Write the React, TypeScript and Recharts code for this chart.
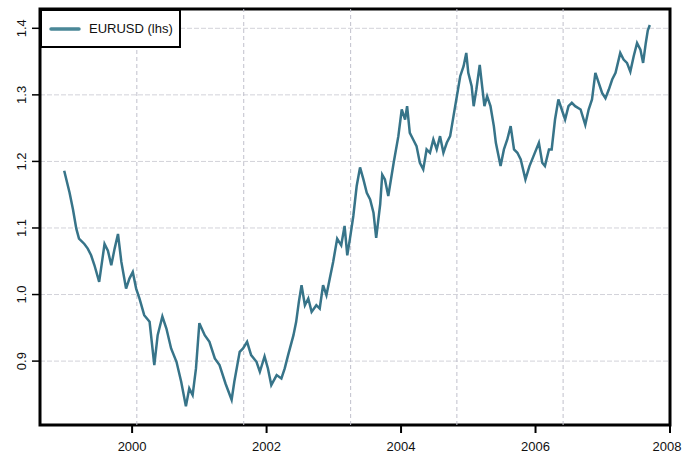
import React from "react";
import {
  LineChart,
  Line,
  XAxis,
  YAxis,
  CartesianGrid,
  ReferenceLine,
  ReferenceArea,
  Legend,
} from "recharts";

const obsTime = [
  1998.99, 1999.07, 1999.12, 1999.17, 1999.21, 1999.29, 1999.34, 1999.39, 1999.44, 1999.51,
  1999.59, 1999.64, 1999.69, 1999.74, 1999.79, 1999.84, 1999.91, 1999.96, 2000.01, 2000.06,
  2000.11, 2000.18, 2000.26, 2000.33, 2000.38, 2000.45, 2000.51, 2000.58, 2000.66, 2000.73,
  2000.8, 2000.85, 2000.9, 2000.95, 2001.0, 2001.08, 2001.15, 2001.23, 2001.3, 2001.39,
  2001.48, 2001.52, 2001.6, 2001.65, 2001.71, 2001.77, 2001.85, 2001.9, 2001.97, 2002.02,
  2002.07, 2002.15, 2002.22, 2002.27, 2002.32, 2002.4, 2002.44, 2002.48, 2002.52, 2002.57,
  2002.62, 2002.67, 2002.74, 2002.79, 2002.84, 2002.89, 2002.94, 2002.99, 2003.05, 2003.11,
  2003.16, 2003.2, 2003.24, 2003.29, 2003.34, 2003.39, 2003.44, 2003.49, 2003.54, 2003.59,
  2003.63, 2003.69, 2003.72, 2003.76, 2003.81, 2003.89, 2003.96, 2004.01, 2004.06, 2004.09,
  2004.13, 2004.18, 2004.23, 2004.28, 2004.33, 2004.38, 2004.43, 2004.48, 2004.53, 2004.58,
  2004.63, 2004.68, 2004.73, 2004.78, 2004.83, 2004.88, 2004.93, 2004.97, 2005.0, 2005.05,
  2005.08, 2005.12, 2005.17, 2005.2, 2005.24, 2005.28, 2005.33, 2005.38, 2005.41, 2005.45,
  2005.48, 2005.53, 2005.58, 2005.63, 2005.68, 2005.73, 2005.78, 2005.85, 2005.91, 2005.97,
  2006.05, 2006.1, 2006.14, 2006.2, 2006.24, 2006.29, 2006.34, 2006.39, 2006.44, 2006.49,
  2006.54, 2006.59, 2006.67, 2006.74, 2006.79, 2006.84, 2006.89, 2006.94, 2006.99, 2007.04,
  2007.09, 2007.14, 2007.19, 2007.26, 2007.31, 2007.36, 2007.41, 2007.46, 2007.51, 2007.56,
  2007.6, 2007.64, 2007.67, 2007.7,
];

const eurusd = [
  1.186, 1.153, 1.128, 1.099, 1.084, 1.076, 1.069, 1.059, 1.044, 1.019,
  1.076, 1.066, 1.044, 1.069, 1.091, 1.049, 1.009, 1.024, 1.034, 1.009,
  0.994, 0.969, 0.959, 0.894, 0.939, 0.967, 0.949, 0.919, 0.899, 0.869,
  0.832, 0.859, 0.849, 0.889, 0.957, 0.939, 0.929, 0.904, 0.894, 0.866,
  0.842, 0.869, 0.914, 0.919, 0.929, 0.909, 0.899, 0.884, 0.907, 0.889,
  0.864, 0.879, 0.874, 0.889, 0.909, 0.939, 0.959, 0.989, 1.014, 0.984,
  0.994, 0.974, 0.984, 0.979, 1.014, 0.999, 1.024, 1.049, 1.084, 1.074,
  1.103, 1.059, 1.084, 1.118, 1.163, 1.191, 1.173, 1.153, 1.143, 1.123,
  1.085, 1.136, 1.18, 1.173, 1.148, 1.198, 1.238, 1.278, 1.263, 1.283,
  1.243, 1.233, 1.223, 1.198, 1.188, 1.218, 1.213, 1.233, 1.218, 1.238,
  1.213, 1.228, 1.238, 1.268, 1.298, 1.328, 1.343, 1.363, 1.333, 1.313,
  1.283, 1.308, 1.345, 1.318, 1.283, 1.298, 1.283, 1.253, 1.228, 1.208,
  1.193, 1.218, 1.233, 1.253, 1.218, 1.213, 1.203, 1.173, 1.193, 1.208,
  1.228, 1.198, 1.193, 1.218, 1.218, 1.263, 1.293, 1.278, 1.263, 1.283,
  1.288, 1.283, 1.278, 1.255, 1.278, 1.293, 1.333, 1.318, 1.303, 1.295,
  1.308, 1.323, 1.333, 1.363, 1.353, 1.348, 1.335, 1.358, 1.378, 1.368,
  1.348, 1.378, 1.397, 1.405,
];

const xTicks = [2000, 2002, 2004, 2006, 2008];
const yTicks = [0.9, 1.0, 1.1, 1.2, 1.3, 1.4];
// vertical dashed grid lines do not sit on the year ticks
const gridYears = [2000.07, 2001.66, 2003.25, 2004.83, 2006.41];

const X_MIN = 1998.63;
const X_MAX = 2008;
const Y_MIN = 0.804;
const Y_MAX = 1.429;

const LINE_COLOR = "#377489";
const FONT = "'Liberation Sans', Arial, sans-serif";

const data = obsTime.map((t, i) => ({ t, eurusd: eurusd[i] }));

const YTick = ({ x, y, payload }: any) => {
  const bx = x - 4;
  return (
    <text
      x={bx}
      y={y}
      transform={`rotate(-90 ${bx} ${y})`}
      textAnchor="middle"
      fontSize={13}
      fontFamily={FONT}
      fill="#111"
    >
      {Number(payload.value).toFixed(1)}
    </text>
  );
};

const XTick = ({ x, y, payload }: any) => (
  <text x={x} y={y + 16} textAnchor="middle" fontSize={13} fontFamily={FONT} fill="#111">
    {payload.value}
  </text>
);

const LegendBox = () => (
  <div
    style={{
      boxSizing: "border-box",
      width: 141,
      height: 39,
      border: "2px solid #000",
      background: "#fff",
      display: "flex",
      alignItems: "center",
      fontFamily: FONT,
      fontSize: 13,
      color: "#111",
    }}
  >
    <svg width={40} height={8} style={{ marginLeft: 7 }}>
      <line x1={2} y1={4} x2={30} y2={4} stroke="#4a8797" strokeWidth={3.5} strokeLinecap="round" />
    </svg>
    <span>EURUSD (lhs)</span>
  </div>
);

export default function App() {
  return (
    <div style={{ position: "fixed", left: 0, top: 0, width: 683, height: 466, background: "#fff" }}>
      <LineChart width={683} height={466} data={data} margin={{ top: 9, right: 13, bottom: 11, left: 10 }}>
        <CartesianGrid vertical={false} stroke="#d2d2d9" strokeDasharray="5 2" />
        {gridYears.map((g) => (
          <ReferenceLine key={g} x={g} stroke="#c0c0cc" strokeDasharray="4 3" />
        ))}
        <XAxis
          dataKey="t"
          type="number"
          domain={[X_MIN, X_MAX]}
          ticks={xTicks}
          allowDataOverflow
          height={30}
          axisLine={false}
          tickSize={8}
          tickLine={{ stroke: "#000", strokeWidth: 2 }}
          tick={<XTick />}
        />
        <YAxis
          type="number"
          domain={[Y_MIN, Y_MAX]}
          ticks={yTicks}
          allowDataOverflow
          width={30}
          axisLine={false}
          tickSize={8}
          tickLine={{ stroke: "#000", strokeWidth: 1.5 }}
          tick={<YTick />}
        />
        <Line
          type="linear"
          dataKey="eurusd"
          stroke={LINE_COLOR}
          strokeWidth={2.5}
          dot={false}
          isAnimationActive={false}
        />
        <ReferenceArea
          x1={X_MIN}
          x2={X_MAX}
          y1={Y_MIN}
          y2={Y_MAX}
          fill="none"
          stroke="#000"
          strokeWidth={3}
          ifOverflow="visible"
        />
        <Legend
          layout="horizontal"
          verticalAlign="middle"
          align="center"
          content={<LegendBox />}
          wrapperStyle={{ top: 9, left: 40, width: 141, height: 39 }}
        />
      </LineChart>
    </div>
  );
}
